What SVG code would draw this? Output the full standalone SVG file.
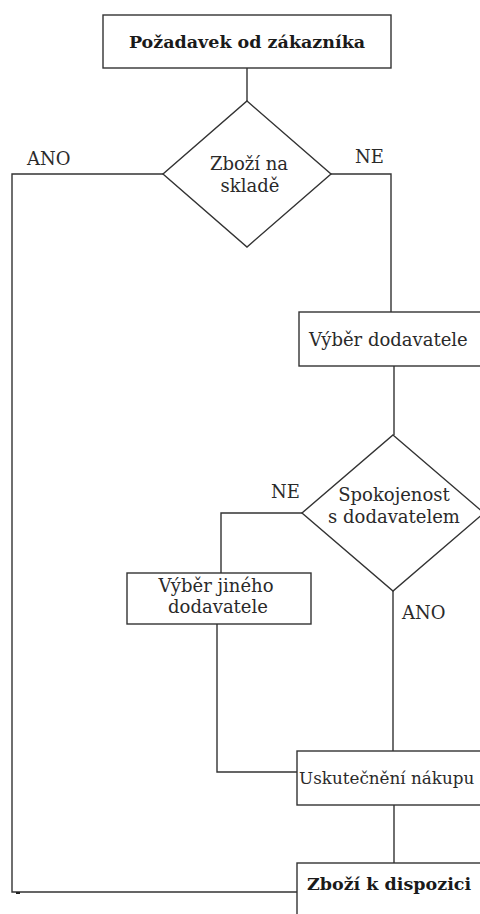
<svg xmlns="http://www.w3.org/2000/svg" width="480" height="914" viewBox="0 0 480 914">
<style>
.box{fill:#fff;stroke:#333;stroke-width:1.4}
.c{fill:none;stroke:#333;stroke-width:1.4}
.t{font-family:"DejaVu Serif","Liberation Serif",serif;font-size:18px;fill:#2a2a2a}
.b{font-family:"DejaVu Serif","Liberation Serif",serif;font-size:17.5px;font-weight:bold;fill:#1a1a1a}
</style>
<rect width="480" height="914" fill="#fff"/>
<g id="connectors">
<polyline class="c" points="247,68 247,101"/>
<polyline class="c" points="163,174 12,174 12,892 297,892"/>
<polyline class="c" points="331,174 391,174 391,312"/>
<polyline class="c" points="394,366 394,435"/>
<polyline class="c" points="302,513 221,513 221,573"/>
<polyline class="c" points="393,591 393,751"/>
<polyline class="c" points="217,624 217,772 297,772"/>
<polyline class="c" points="394,805 394,863"/>
<rect x="16" y="892" width="4" height="2" fill="#222"/>
</g>
<g id="n-pozadavek">
<rect class="box" x="103" y="15" width="288" height="53"/>
<text class="b" x="247" y="48" text-anchor="middle">Požadavek od zákazníka</text>
</g>
<g id="n-sklad">
<polygon class="box" points="247,101 331,174 247,247 163,174"/>
<text class="t" x="249" y="170" text-anchor="middle">Zboží na</text>
<text class="t" x="250" y="192" text-anchor="middle">skladě</text>
</g>
<text class="t" x="27" y="165">ANO</text>
<text class="t" x="355" y="163">NE</text>
<g id="n-vyber">
<rect class="box" x="299" y="312" width="200" height="54"/>
<text class="t" x="309" y="346">Výběr dodavatele</text>
</g>
<g id="n-spokojenost">
<polygon class="box" points="393,435 484,513 393,591 302,513"/>
<text class="t" x="394" y="501" text-anchor="middle">Spokojenost</text>
<text class="t" x="394" y="523" text-anchor="middle">s dodavatelem</text>
</g>
<text class="t" x="271" y="498">NE</text>
<text class="t" x="402" y="619">ANO</text>
<g id="n-jiny">
<rect class="box" x="127" y="573" width="184" height="51"/>
<text class="t" x="216" y="592" text-anchor="middle">Výběr jiného</text>
<text class="t" x="218" y="613" text-anchor="middle">dodavatele</text>
</g>
<g id="n-nakup">
<rect class="box" x="297" y="751" width="200" height="54"/>
<text class="t" x="299" y="784" style="font-size:16.8px">Uskutečnění nákupu</text>
</g>
<g id="n-dispozice">
<rect class="box" x="297" y="863" width="200" height="80"/>
<text class="b" x="307" y="890">Zboží k dispozici</text>
</g>
</svg>
